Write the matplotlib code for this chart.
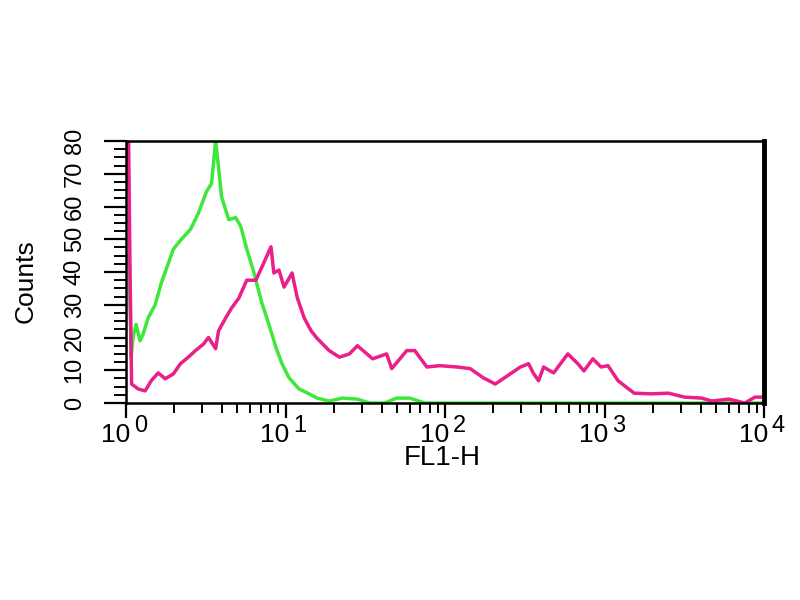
import numpy as np
import matplotlib.pyplot as plt
from matplotlib.ticker import FixedLocator, NullFormatter
from matplotlib.transforms import offset_copy

# FL1-H channel positions (log10 of intensity) and counts
green_log = [0.000, 0.019, 0.032, 0.044, 0.063, 0.088, 0.107, 0.139, 0.183, 0.221,
             0.265, 0.297, 0.347, 0.404, 0.454, 0.505, 0.536, 0.562, 0.580, 0.599,
             0.644, 0.688, 0.719, 0.757, 0.801, 0.852, 0.896, 0.940, 0.978, 1.022,
             1.085, 1.148, 1.199, 1.274, 1.356, 1.451, 1.527, 1.621, 1.697, 1.779,
             1.874, 2.347, 2.978, 3.609, 4.000]
green_counts = [45, 45, 14, 20, 24, 19, 21, 26, 30, 36.6,
                42.6, 47, 50, 53, 58, 64.6, 67, 80, 72, 63,
                56, 56.6, 54, 47, 40, 30.5, 24, 17, 12, 7.7,
                4.3, 2.8, 1.5, 0.6, 1.5, 1.2, 0, 0, 1.5, 1.5,
                0, 0, 0, 0, 0]

pink_log = [0.000, 0.013, 0.025, 0.035, 0.076, 0.120, 0.158, 0.202, 0.246, 0.297,
            0.341, 0.391, 0.435, 0.486, 0.517, 0.562, 0.580, 0.625, 0.662, 0.707,
            0.757, 0.814, 0.852, 0.909, 0.927, 0.959, 0.991, 1.041, 1.073, 1.117,
            1.161, 1.199, 1.274, 1.338, 1.401, 1.451, 1.546, 1.634, 1.666, 1.760,
            1.811, 1.886, 1.968, 2.076, 2.158, 2.240, 2.315, 2.391, 2.473, 2.524,
            2.555, 2.587, 2.618, 2.681, 2.770, 2.833, 2.871, 2.927, 2.978, 3.022,
            3.085, 3.186, 3.293, 3.401, 3.502, 3.609, 3.672, 3.779, 3.880, 3.943,
            4.000]
pink_counts = [95, 95, 41.5, 5.8, 4.3, 3.7, 6.8, 9.2, 7.4, 8.9,
               12, 14, 16, 18, 20, 16.6, 22, 26, 29, 32,
               37.5, 37.5, 41.5, 47.7, 39.7, 40.6, 35.4, 39.7, 32.3, 26,
               22, 19.7, 16, 14, 15, 17.5, 13.5, 15, 10.5, 16,
               16, 11, 11.4, 11, 10.5, 7.7, 5.8, 8.3, 11, 12,
               9, 6.8, 11, 9.2, 15, 12, 9.8, 13.5, 11, 11.4,
               6.8, 3, 2.8, 3, 1.8, 1.5, 0.6, 1.2, 0, 1.8,
               1.8]

y_ticks = [0, 10, 20, 30, 40, 50, 60, 70, 80]
x_ticks = [1, 10, 100, 1000, 10000]
x_exponents = ['0', '1', '2', '3', '4']

plt.rcParams['font.family'] = ['Liberation Sans', 'DejaVu Sans']

fig = plt.figure(figsize=(8, 6), dpi=100)
ax = fig.add_axes([0.1575, 0.3283, 0.7975, 0.4367])

ax.plot(10 ** np.array(green_log), green_counts, color='#3ee83a', lw=2.5)
ax.plot(10 ** np.array(pink_log), pink_counts, color='#ea1f8a', lw=2.5)

ax.set_xscale('log')
ax.set_xlim(1, 10000)
ax.set_ylim(0, 80)

# x tick labels: "10" plus a large exponent, as on the cytometer printout
ax.set_xticks(x_ticks)
ax.set_xticklabels([])
ax.xaxis.set_minor_locator(FixedLocator(
    [m * 10 ** d for d in range(4) for m in range(2, 10)]))
ax.xaxis.set_minor_formatter(NullFormatter())
xt = ax.get_xaxis_transform()
for xv, ex in zip(x_ticks, x_exponents):
    ax.text(xv, 0, '10', transform=offset_copy(xt, fig, x=4, y=-39, units='dots'),
            ha='right', va='baseline', fontsize=19, clip_on=False)
    ax.text(xv, 0, ex, transform=offset_copy(xt, fig, x=8, y=-29, units='dots'),
            ha='left', va='baseline', fontsize=17, clip_on=False)

ax.set_yticks(y_ticks)
ax.set_yticklabels([str(v) for v in y_ticks], rotation=90, va='center', fontsize=17)
ax.set_yticks(np.arange(0, 80.1, 2.5), minor=True)

ax.tick_params(axis='x', which='major', direction='out', length=11, width=1.6)
ax.tick_params(axis='x', which='minor', direction='out', length=7, width=1.4)
ax.tick_params(axis='y', which='major', direction='out', length=16, width=1.6, pad=13)
ax.tick_params(axis='y', which='minor', direction='out', length=9, width=1.4)

for side in ['left', 'bottom', 'top']:
    ax.spines[side].set_linewidth(1.8)
ax.spines['right'].set_linewidth(3.5)

ax.set_xlabel('FL1-H', fontsize=20)
ax.xaxis.label.set_va('baseline')
ax.xaxis.set_label_coords(0.496, -0.237)
ax.set_ylabel('Counts', fontsize=19)
ax.yaxis.set_label_coords(-0.138, 0.466)

fig.savefig('out.png', dpi=100)
